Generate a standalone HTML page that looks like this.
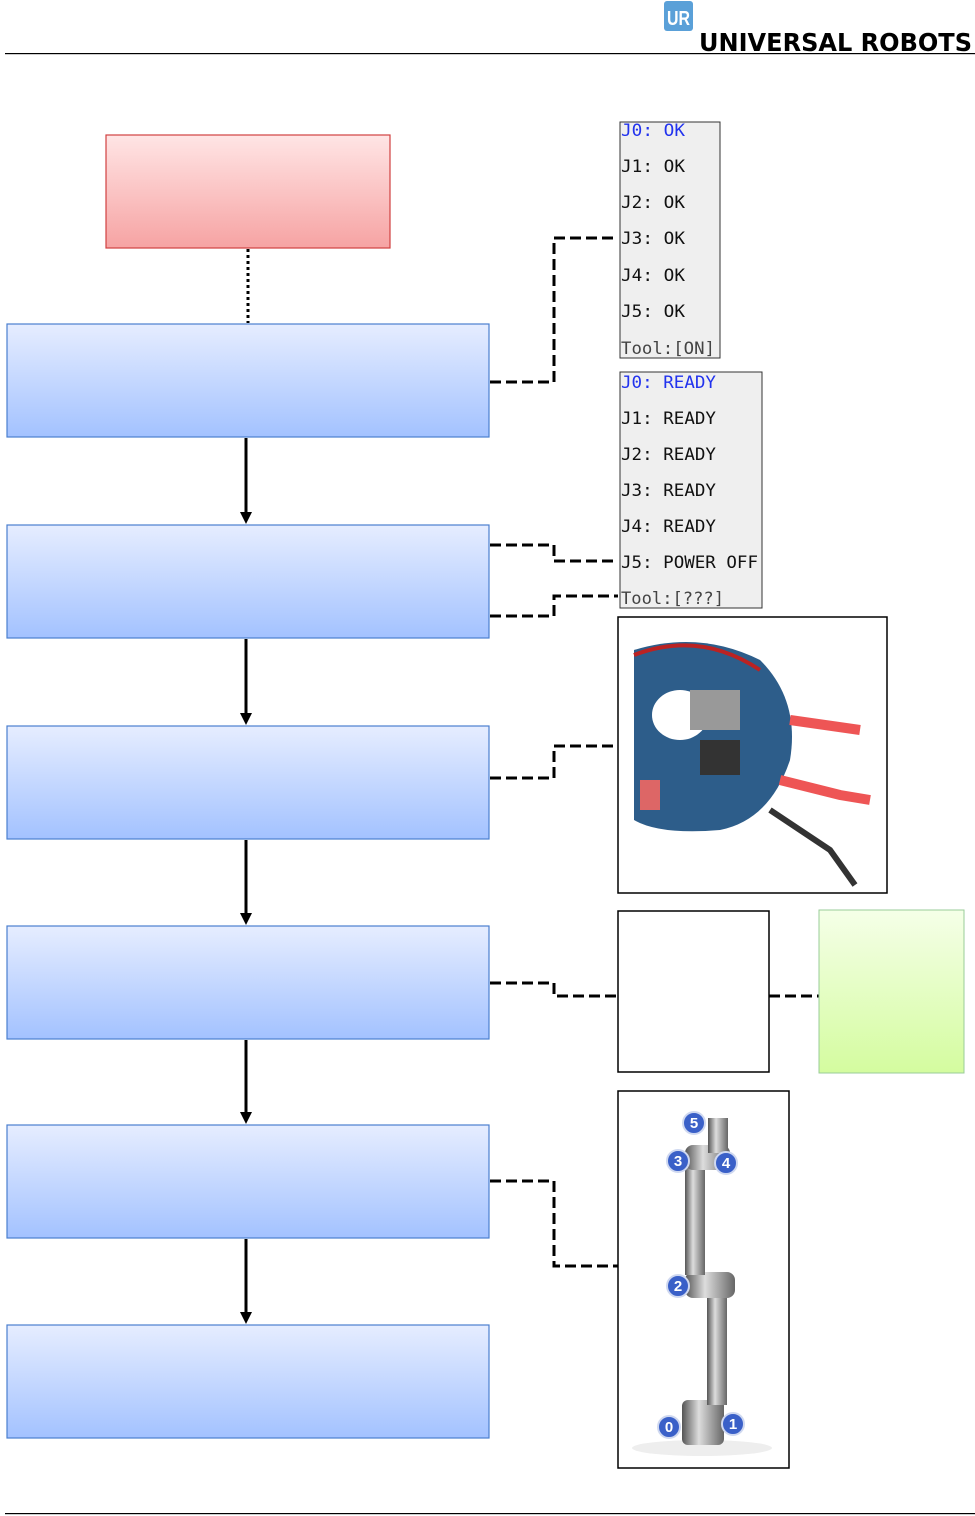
<!DOCTYPE html>
<html><head><meta charset="utf-8"><style>
body{margin:0;background:#fff;}
svg{display:block}
</style></head><body>
<svg width="975" height="1516" viewBox="0 0 975 1516" xmlns="http://www.w3.org/2000/svg">
<defs>
<linearGradient id="bl" x1="0" y1="0" x2="0" y2="1"><stop offset="0" stop-color="#e6edff"/><stop offset="1" stop-color="#a3c2ff"/></linearGradient>
<linearGradient id="rd" x1="0" y1="0" x2="0" y2="1"><stop offset="0" stop-color="#ffe5e5"/><stop offset="1" stop-color="#f6a3a3"/></linearGradient>
<linearGradient id="gr" x1="0" y1="0" x2="0" y2="1"><stop offset="0" stop-color="#f5ffe8"/><stop offset="1" stop-color="#d4fc9f"/></linearGradient>
<linearGradient id="cyl" x1="0" y1="0" x2="1" y2="0"><stop offset="0" stop-color="#555"/><stop offset="0.4" stop-color="#ddd"/><stop offset="1" stop-color="#666"/></linearGradient>
</defs>
<!-- header -->
<rect x="664" y="1" width="29" height="30" rx="3" fill="#5aa0d8"/>
<text x="667" y="25" font-family="Liberation Sans,sans-serif" font-size="20" font-weight="bold" fill="#fff" textLength="23" lengthAdjust="spacingAndGlyphs">UR</text>
<text x="699" y="51" font-family="DejaVu Sans,sans-serif" font-size="25" font-weight="bold" fill="#000" textLength="273" lengthAdjust="spacingAndGlyphs">UNIVERSAL ROBOTS</text>
<rect x="5" y="53" width="970" height="1.2" fill="#000"/>
<rect x="5" y="1513" width="970" height="1.2" fill="#000"/>
<!-- red box -->
<rect x="106" y="135" width="284" height="113" fill="url(#rd)" stroke="#d04040" stroke-width="1.2"/>
<line x1="248" y1="249" x2="248" y2="323" stroke="#000" stroke-width="3" stroke-dasharray="3,3"/>
<!-- blue boxes -->
<g fill="url(#bl)" stroke="#4a7fcf" stroke-width="1.2">
<rect x="7" y="324" width="482" height="113"/>
<rect x="7" y="525" width="482" height="113"/>
<rect x="7" y="726" width="482" height="113"/>
<rect x="7" y="926" width="482" height="113"/>
<rect x="7" y="1125" width="482" height="113"/>
<rect x="7" y="1325" width="482" height="113"/>
</g>
<g stroke="#000" stroke-width="3">
<line x1="246" y1="438" x2="246" y2="514"/>
<line x1="246" y1="639" x2="246" y2="715"/>
<line x1="246" y1="840" x2="246" y2="915"/>
<line x1="246" y1="1040" x2="246" y2="1114"/>
<line x1="246" y1="1239" x2="246" y2="1314"/>
</g>
<g fill="#000">
<path d="M240,512 L252,512 L246,524 z"/>
<path d="M240,713 L252,713 L246,725 z"/>
<path d="M240,913 L252,913 L246,925 z"/>
<path d="M240,1112 L252,1112 L246,1124 z"/>
<path d="M240,1312 L252,1312 L246,1324 z"/>
</g>
<!-- connectors -->
<g fill="none" stroke="#000" stroke-width="3" stroke-dasharray="11,5">
<path d="M490,382 H554 V238 H618"/>
<path d="M490,545 H554 V561 H618"/>
<path d="M490,616 H554 V596 H618"/>
<path d="M490,778 H554 V746 H618"/>
<path d="M490,983 H554 V996 H618"/>
<path d="M769,996 H819"/>
<path d="M490,1181 H554 V1266 H618"/>
</g>
<!-- panel 1 -->
<rect x="620" y="122" width="100" height="236" fill="#efefef" stroke="#333" stroke-width="1"/>
<g font-family="DejaVu Sans Mono,Liberation Mono,monospace" font-size="17" fill="#111">
<text x="621" y="136" fill="#2233ee" textLength="64" lengthAdjust="spacingAndGlyphs">J0: OK</text>
<text x="621" y="172" textLength="64" lengthAdjust="spacingAndGlyphs">J1: OK</text>
<text x="621" y="208" textLength="64" lengthAdjust="spacingAndGlyphs">J2: OK</text>
<text x="621" y="244" textLength="64" lengthAdjust="spacingAndGlyphs">J3: OK</text>
<text x="621" y="281" textLength="64" lengthAdjust="spacingAndGlyphs">J4: OK</text>
<text x="621" y="317" textLength="64" lengthAdjust="spacingAndGlyphs">J5: OK</text>
<text x="621" y="354" fill="#444" textLength="94" lengthAdjust="spacingAndGlyphs">Tool:[ON]</text>
</g>
<!-- panel 2 -->
<rect x="620" y="372" width="142" height="236" fill="#efefef" stroke="#333" stroke-width="1"/>
<g font-family="DejaVu Sans Mono,Liberation Mono,monospace" font-size="17" fill="#111">
<text x="621" y="388" fill="#2233ee" textLength="95" lengthAdjust="spacingAndGlyphs">J0: READY</text>
<text x="621" y="424" textLength="95" lengthAdjust="spacingAndGlyphs">J1: READY</text>
<text x="621" y="460" textLength="95" lengthAdjust="spacingAndGlyphs">J2: READY</text>
<text x="621" y="496" textLength="95" lengthAdjust="spacingAndGlyphs">J3: READY</text>
<text x="621" y="532" textLength="95" lengthAdjust="spacingAndGlyphs">J4: READY</text>
<text x="621" y="568" textLength="137" lengthAdjust="spacingAndGlyphs">J5: POWER OFF</text>
<text x="621" y="604" fill="#444" textLength="103" lengthAdjust="spacingAndGlyphs">Tool:[???]</text>
</g>
<!-- photo -->
<rect x="618" y="617" width="269" height="276" fill="#fff" stroke="#000" stroke-width="1.5"/>
<path d="M634,650 Q700,630 760,660 Q800,700 790,760 Q770,820 720,830 Q660,835 634,820 Z" fill="#2d5d8a"/>
<ellipse cx="680" cy="715" rx="28" ry="25" fill="#fff"/>
<rect x="690" y="690" width="50" height="40" fill="#999"/>
<rect x="700" y="740" width="40" height="35" fill="#333"/>
<path d="M634,655 Q700,630 760,670" stroke="#b22" stroke-width="4" fill="none"/>
<path d="M790,720 L860,730" stroke="#e55" stroke-width="10"/>
<path d="M780,780 L840,795 L870,800" stroke="#e55" stroke-width="10"/>
<path d="M770,810 L830,850 L855,885" stroke="#333" stroke-width="6" fill="none"/>
<rect x="640" y="780" width="20" height="30" fill="#d66"/>
<!-- white & green -->
<rect x="618" y="911" width="151" height="161" fill="#fff" stroke="#000" stroke-width="1.5"/>
<rect x="819" y="910" width="145" height="163" fill="url(#gr)" stroke="#9c9" stroke-width="1"/>
<!-- robot -->
<rect x="618" y="1091" width="171" height="377" fill="#fff" stroke="#000" stroke-width="1.5"/>
<ellipse cx="702" cy="1448" rx="70" ry="8" fill="#eee"/>
<rect x="682" y="1400" width="42" height="45" rx="6" fill="url(#cyl)"/>
<rect x="707" y="1295" width="20" height="110" fill="url(#cyl)"/>
<rect x="685" y="1272" width="50" height="26" rx="8" fill="url(#cyl)"/>
<rect x="685" y="1160" width="20" height="115" fill="url(#cyl)"/>
<rect x="685" y="1145" width="45" height="25" rx="8" fill="url(#cyl)"/>
<rect x="708" y="1118" width="20" height="35" fill="url(#cyl)"/>
<g fill="#3a60c8" stroke="#cfd8f0" stroke-width="2">
<circle cx="694" cy="1123" r="11"/><circle cx="678" cy="1161" r="11"/><circle cx="726" cy="1163" r="11"/>
<circle cx="678" cy="1286" r="11"/><circle cx="669" cy="1427" r="11"/><circle cx="733" cy="1424" r="11"/>
</g>
<g fill="#fff" font-family="Liberation Sans,sans-serif" font-size="15" font-weight="bold" text-anchor="middle">
<text x="694" y="1128">5</text><text x="678" y="1166">3</text><text x="726" y="1168">4</text>
<text x="678" y="1291">2</text><text x="669" y="1432">0</text><text x="733" y="1429">1</text>
</g>
</svg>
</body></html>
